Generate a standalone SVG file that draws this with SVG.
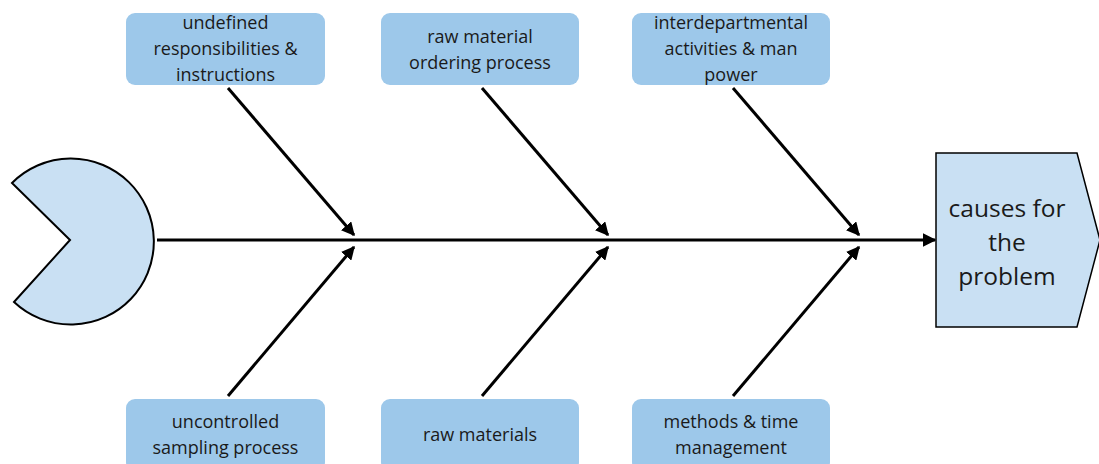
<svg xmlns="http://www.w3.org/2000/svg" width="1099" height="464" viewBox="0 0 1099 464">
  <style>
    .cause { fill: #9dc8ea; }
    .lbl { font-family: "Open Sans", "Liberation Sans", sans-serif; font-size: 18px; fill: #1a1a1a; text-anchor: middle; dominant-baseline: central; }
    .head-lbl { font-family: "Open Sans", "Liberation Sans", sans-serif; font-size: 24.5px; fill: #1a1a1a; text-anchor: middle; dominant-baseline: central; }
    .bone { stroke: #000; stroke-width: 3; fill: none; marker-end: url(#arrow); }
  </style>
  <defs>
    <marker id="arrow" viewBox="0 0 10 10" refX="9" refY="5" markerWidth="4.5" markerHeight="4.5" orient="auto" markerUnits="strokeWidth">
      <path d="M0,0 L10,5 L0,10 Z" fill="#000"/>
    </marker>
  </defs>

  <!-- tail -->
  <g id="tail">
    <path d="M70,240 L12,183 A83,83 0 1 1 14,302 Z" fill="#c9e0f3" stroke="#000" stroke-width="2"/>
  </g>

  <!-- head -->
  <g id="head">
    <path d="M936,153 L1077,153 L1100,240 L1077,327 L936,327 Z" fill="#c9e0f3" stroke="#000" stroke-width="1.5"/>
    <text class="head-lbl" x="1007" y="207">causes for</text>
    <text class="head-lbl" x="1007" y="241">the</text>
    <text class="head-lbl" x="1007" y="275">problem</text>
  </g>

  <!-- connectors -->
  <g id="connectors">
    <path class="bone" d="M157,240 L935,240"/>
    <path class="bone" d="M228,88 L354,235"/>
    <path class="bone" d="M482,88 L608,235"/>
    <path class="bone" d="M733,88 L859,235"/>
    <path class="bone" d="M228,396 L354,247"/>
    <path class="bone" d="M482,396 L608,247"/>
    <path class="bone" d="M733,396 L859,247"/>
  </g>

  <!-- cause boxes -->
  <g id="cause-top-1">
    <rect class="cause" x="126" y="13" width="199" height="72" rx="9"/>
    <text class="lbl" x="225.5" y="22">undefined</text>
    <text class="lbl" x="225.5" y="48">responsibilities &amp;</text>
    <text class="lbl" x="225.5" y="74">instructions</text>
  </g>
  <g id="cause-top-2">
    <rect class="cause" x="381" y="13" width="198" height="72" rx="9"/>
    <text class="lbl" x="480" y="36">raw material</text>
    <text class="lbl" x="480" y="62">ordering process</text>
  </g>
  <g id="cause-top-3">
    <rect class="cause" x="632" y="13" width="198" height="72" rx="9"/>
    <text class="lbl" x="731" y="22">interdepartmental</text>
    <text class="lbl" x="731" y="48">activities &amp; man</text>
    <text class="lbl" x="731" y="74">power</text>
  </g>
  <g id="cause-bottom-1">
    <rect class="cause" x="126" y="399" width="199" height="72" rx="9"/>
    <text class="lbl" x="225.5" y="421">uncontrolled</text>
    <text class="lbl" x="225.5" y="447">sampling process</text>
  </g>
  <g id="cause-bottom-2">
    <rect class="cause" x="381" y="399" width="198" height="72" rx="9"/>
    <text class="lbl" x="480" y="434">raw materials</text>
  </g>
  <g id="cause-bottom-3">
    <rect class="cause" x="632" y="399" width="198" height="72" rx="9"/>
    <text class="lbl" x="731" y="421">methods &amp; time</text>
    <text class="lbl" x="731" y="447">management</text>
  </g>
</svg>
